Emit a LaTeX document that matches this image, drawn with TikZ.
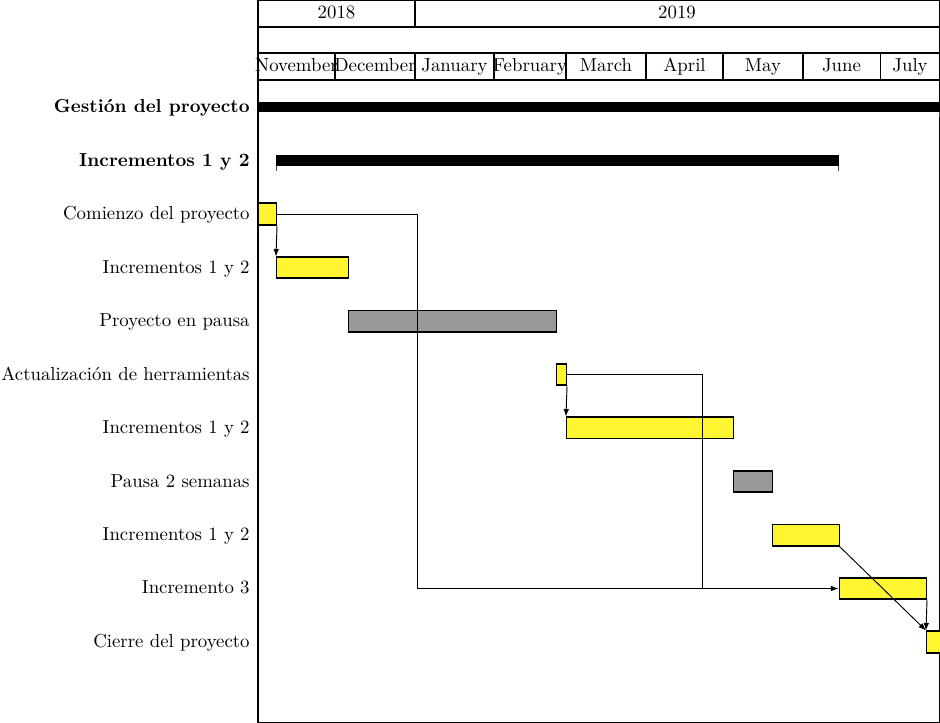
\documentclass[tikz,border=0pt]{standalone}
\usetikzlibrary{fit,arrows.meta}
\definecolor{baryellow}{RGB}{255,245,48}
\definecolor{bargray}{RGB}{153,153,153}
\begin{document}
\begin{tikzpicture}[x=0.5318pt,y=-0.5318pt,
  frameline/.style={line width=0.55pt},
  taskbar/.style={draw, line width=0.55pt, fill=baryellow, inner sep=0pt},
  pausebar/.style={draw, line width=0.55pt, fill=bargray, inner sep=0pt},
  groupbar/.style={fill=black, inner sep=0pt},
  rowlabel/.style={anchor=east, inner sep=0pt, text height=1.5ex, text depth=0.25ex},
  cell/.style={inner sep=0pt, text height=1.5ex, text depth=0.25ex},
  link/.style={line width=0.5pt, -{Latex[length=4pt,width=3pt]}},
  plainlink/.style={line width=0.5pt}]
\useasboundingbox (0,0) rectangle (940,723);
% header frames
\draw[frameline] (258,0.5) rectangle (939.5,27);
\draw[frameline] (415,0.5) -- (415,27);
\draw[frameline] (258,27) rectangle (939.5,53);
\draw[frameline] (258,53) rectangle (939.5,80);
\foreach \xx in {335,415,494,566,646,723,803,880} \draw[frameline] (\xx,53) -- (\xx,80);
% chart frame
\draw[frameline] (258,80) rectangle (939.5,722.5);
% header texts
\node[cell] (y18) at (336.5,13.5) {2018};
\node[cell] (y19) at (677,13.5) {2019};
\node[cell] (mnov) at (296.5,66.5) {November};
\node[cell] (mdec) at (375,66.5) {December};
\node[cell] (mjan) at (454.5,66.5) {January};
\node[cell] (mfeb) at (530,66.5) {February};
\node[cell] (mmar) at (606,66.5) {March};
\node[cell] (mapr) at (684.5,66.5) {April};
\node[cell] (mmay) at (763,66.5) {May};
\node[cell] (mjun) at (841.5,66.5) {June};
\node[cell] (mjul) at (910,66.5) {July};
% row labels
\node[rowlabel] (l1) at (250,107) {\bfseries Gestión del proyecto};
\node[rowlabel] (l2) at (250,161) {\bfseries Incrementos 1 y 2};
\node[rowlabel] (l3) at (250,214) {Comienzo del proyecto};
\node[rowlabel] (l4) at (250,268) {Incrementos 1 y 2};
\node[rowlabel] (l5) at (250,321) {Proyecto en pausa};
\node[rowlabel] (l6) at (250,375) {Actualización de herramientas};
\node[rowlabel] (l7) at (250,428) {Incrementos 1 y 2};
\node[rowlabel] (l8) at (250,482) {Pausa 2 semanas};
\node[rowlabel] (l9) at (250,535) {Incrementos 1 y 2};
\node[rowlabel] (l10) at (250,588) {Incremento 3};
\node[rowlabel] (l11) at (250,642) {Cierre del proyecto};
% group bars
\node[groupbar, fit={(258,102)(940,112)}] (g1) {};
\node[groupbar, fit={(276,155.5)(839,166)}] (g2) {};
\draw[line width=0.5pt, black!70] (276.5,166) -- (276.5,171);
\draw[line width=0.5pt, black!70] (838.5,166) -- (838.5,171);
\draw[line width=0.5pt, black!70] (939.5,112) -- (939.5,117);
% task bars
\node[taskbar, fit={(258.5,203)(276.5,225)}] (c1) {};
\node[taskbar, fit={(276.5,257)(348.5,278)}] (inc1) {};
\node[pausebar, fit={(348.5,310.5)(556.5,332)}] (p1) {};
\node[taskbar, fit={(556.5,364)(566.5,385)}] (a1) {};
\node[taskbar, fit={(566.5,417)(733.5,438.5)}] (inc2) {};
\node[pausebar, fit={(733.5,471)(772.5,492)}] (p2) {};
\node[taskbar, fit={(772.5,524.5)(839,546)}] (inc3) {};
\node[taskbar, fit={(839,578)(926.5,599)}] (i3) {};
\node[taskbar, fit={(926.5,631)(942,653)}] (cierre) {};
% junction coordinates
\coordinate (j1) at (417,588);
\coordinate (j2) at (702.5,588);
% links
\draw[plainlink] (c1.east) -| (i3.west -| j1);
\draw[link] (i3.west -| j1) -- (i3.west);
\draw[plainlink] (a1.east) -| (i3.west -| j2);
\draw[link] (c1.south east) -- (inc1.north west);
\draw[link] (a1.south east) -- (inc2.north west);
\draw[link] (inc3.south east) -- (cierre.north west);
\draw[link] (i3.south east) -- (cierre.north west);
\end{tikzpicture}
\end{document}
